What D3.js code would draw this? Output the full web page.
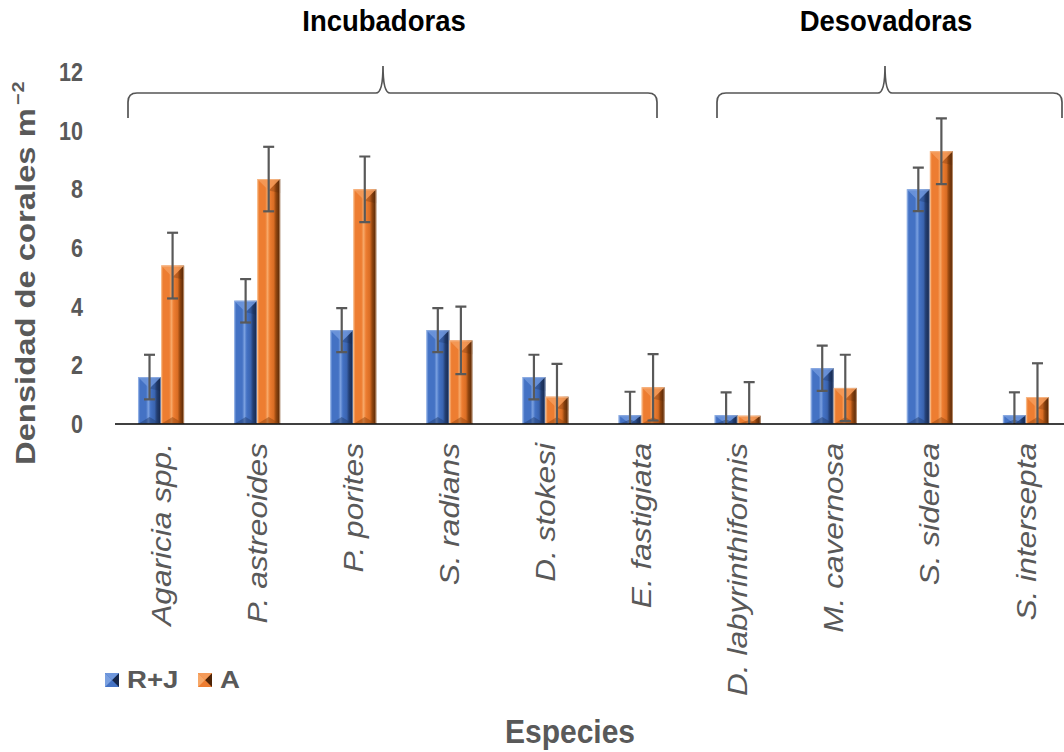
<!DOCTYPE html>
<html>
<head>
<meta charset="utf-8">
<script src="https://cdn.jsdelivr.net/npm/d3@7"></script>
<style>
  html, body { margin: 0; padding: 0; background: #ffffff; }
  svg { display: block; }
</style>
</head>
<body>
<svg id="chart" width="1064" height="752"></svg>
<script>
// ---- data ----
const species = ["Agaricia spp.", "P. astreoides", "P. porites", "S. radians", "D. stokesi",
                 "E. fastigiata", "D. labyrinthiformis", "M. cavernosa", "S. siderea", "S. intersepta"];
const seriesNames = ["R+J", "A"];
const valuesRJ = [1.6, 4.2, 3.2, 3.2, 1.6, 0.3, 0.3, 1.9, 8.0, 0.3];
const errorsRJ = [0.76, 0.74, 0.75, 0.75, 0.76, 0.8, 0.78, 0.77, 0.74, 0.78];
const valuesA  = [5.4, 8.35, 8.0, 2.85, 0.93, 1.25, 0.28, 1.23, 9.3, 0.92];
const errorsA  = [1.12, 1.1, 1.12, 1.15, 1.12, 1.13, 1.15, 1.13, 1.12, 1.15];
const yTicks = [0, 2, 4, 6, 8, 10, 12];
const groups = [
  { name: "Incubadoras", from: "Agaricia spp.", to: "E. fastigiata" },
  { name: "Desovadoras", from: "D. labyrinthiformis", to: "S. intersepta" }
];

// ---- setup ----
const svg = d3.select("#chart");
const gray = "#595959";
const font = "'Liberation Sans', Arial, sans-serif";

const y = d3.scaleLinear().domain([0, 12]).range([424, 72]);
const x0 = d3.scaleBand().domain(species).range([113, 1074]).paddingInner(0.52).paddingOuter(0.26);
const x1 = d3.scaleBand().domain(seriesNames).range([0, x0.bandwidth()]);

const palettes = {
  "R+J": { light: "#7aa0e0", base: "#4472C4", mid: "#3a64b0", dark: "#243f73", darkest: "#15264a", top: "#6f97dc", edge: "#a9c0ea" },
  "A":   { light: "#f7a868", base: "#ED7D31", mid: "#d96d24", dark: "#93460f", darkest: "#4f2406", top: "#f59b5a", edge: "#f8c9a4" }
};

const defs = svg.append("defs");
Object.entries(palettes).forEach(([k, p], i) => {
  const g = defs.append("linearGradient").attr("id", "grad" + i)
    .attr("x1", "0%").attr("x2", "100%").attr("y1", "0%").attr("y2", "0%");
  [[0, p.light], [0.1, p.base], [0.35, p.base], [0.45, p.light], [0.55, p.base], [0.72, p.mid], [0.82, p.dark], [1, p.darkest]]
    .forEach(([o, c]) => g.append("stop").attr("offset", o).attr("stop-color", c));
});
defs.append("clipPath").attr("id", "plotClip")
  .append("rect").attr("x", 0).attr("y", 0).attr("width", 1064).attr("height", 424);

// ---- bars ----
const data = species.map((s, i) => ({
  species: s,
  items: [
    { key: "R+J", v: valuesRJ[i], e: errorsRJ[i], gi: 0 },
    { key: "A", v: valuesA[i], e: errorsA[i], gi: 1 }
  ]
}));

const gCat = svg.append("g").selectAll("g").data(data).join("g")
  .attr("transform", d => `translate(${x0(d.species)},0)`);

const bars = gCat.selectAll("g.bar").data(d => d.items).join("g").attr("class", "bar");
bars.each(function(d) {
  const g = d3.select(this);
  const p = palettes[d.key];
  const bx = x1(d.key), w = x1.bandwidth();
  const by = y(d.v), h = y(0) - y(d.v);
  g.append("rect").attr("x", bx).attr("y", by).attr("width", w).attr("height", h)
    .attr("fill", `url(#grad${d.gi})`);
  const dt = Math.min(w * 0.5, h);
  g.append("path")
    .attr("d", `M${bx},${by} L${bx + w},${by} L${bx + w / 2},${by + dt} Z`)
    .attr("fill", p.top).attr("opacity", 0.85);
  g.append("path")
    .attr("d", `M${bx + w / 2},${by + dt} L${bx + w},${by} L${bx + w},${by + Math.min(h, dt * 1.2)} Z`)
    .attr("fill", p.darkest).attr("opacity", 0.25);
  const db = Math.min(w * 0.3, h / 2);
  g.append("path")
    .attr("d", `M${bx},${by + h} L${bx + w / 2},${by + h - db} L${bx + w},${by + h} Z`)
    .attr("fill", p.dark).attr("opacity", 0.5);
  g.append("rect").attr("x", bx + 0.5).attr("y", by + 0.5).attr("width", w - 1).attr("height", Math.max(0, h - 1))
    .attr("fill", "none").attr("stroke", p.edge).attr("stroke-opacity", 0.6).attr("stroke-width", 1);
});

// ---- error bars ----
const errG = gCat.append("g").attr("clip-path", "url(#plotClip)");
errG.selectAll("g.err").data(d => d.items.map(it => Object.assign({ sp: d.species }, it))).join("g")
  .attr("class", "err")
  .each(function(d) {
    const g = d3.select(this);
    const cx = x1(d.key) + x1.bandwidth() / 2;
    const yt = y(d.v + d.e), yb = y(d.v - d.e);
    g.append("line").attr("x1", cx).attr("x2", cx).attr("y1", yt).attr("y2", yb)
      .attr("stroke", gray).attr("stroke-width", 2.2);
    [yt, yb].forEach(yy => g.append("line").attr("x1", cx - 5.5).attr("x2", cx + 5.5)
      .attr("y1", yy).attr("y2", yy).attr("stroke", gray).attr("stroke-width", 2.2));
  });

// ---- x axis ----
svg.append("line").attr("x1", 115).attr("x2", 1064).attr("y1", y(0)).attr("y2", y(0))
  .attr("stroke", "#000").attr("stroke-width", 1.6);

svg.append("g").selectAll("text").data(species).join("text")
  .attr("transform", d => `translate(${x0(d) + x0.bandwidth() / 2},443) rotate(-90) scale(1.15,1)`)
  .attr("text-anchor", "end").attr("dy", "0.35em")
  .attr("font-family", font).attr("font-style", "italic").attr("font-size", 27.5)
  .attr("fill", gray).text(d => d);

// ---- y axis labels ----
svg.append("g").selectAll("text").data(yTicks).join("text")
  .attr("transform", d => `translate(83,${y(d)}) scale(1.05,1.22)`)
  .attr("dy", "0.36em")
  .attr("text-anchor", "end").attr("font-family", font).attr("font-weight", "bold")
  .attr("font-size", 20.5).attr("fill", gray).text(d => d);

// ---- axis titles ----
const yt = svg.append("text")
  .attr("transform", "translate(35,465) rotate(-90) scale(1.17,1)")
  .attr("text-anchor", "start").attr("font-family", font).attr("font-weight", "bold")
  .attr("font-size", 28).attr("fill", gray);
yt.append("tspan").text("Densidad de corales m");
yt.append("tspan").attr("dx", 3).attr("dy", -11).attr("font-size", 17).attr("letter-spacing", 0.5).text("−2");

svg.append("text").attr("transform", "translate(570,743) scale(1,1.08)").attr("text-anchor", "middle")
  .attr("font-family", font).attr("font-weight", "bold").attr("font-size", 30)
  .attr("fill", gray).text("Especies");

// ---- group brackets ----
groups.forEach((grp, i) => {
  const xl = i === 0 ? 128 : 717;
  const xr = i === 0 ? 657 : 1062;
  const xm = i === 0 ? 383 : 885;
  const yh = 93, yp = 66, yb = 118;
  svg.append("path")
    .attr("d", `M${xl},${yb} L${xl},${yh + 9} Q${xl},${yh} ${xl + 9},${yh} L${xm - 7},${yh} Q${xm},${yh} ${xm},${yp} Q${xm},${yh} ${xm + 7},${yh} L${xr - 9},${yh} Q${xr},${yh} ${xr},${yh + 9} L${xr},${yb}`)
    .attr("fill", "none").attr("stroke", "#555").attr("stroke-width", 1.7);
  svg.append("text").attr("transform", `translate(${xm + 1},31) scale(1,1.05)`).attr("text-anchor", "middle")
    .attr("font-family", font).attr("font-weight", "bold").attr("font-size", 27.5)
    .attr("fill", "#000").text(grp.name);
});

// ---- legend ----
const leg = svg.append("g");
const legItems = [{ key: "R+J", x: 105, tx: 127 }, { key: "A", x: 198, tx: 220 }];
legItems.forEach((it, i) => {
  const p = palettes[it.key];
  const s = 14, lx = it.x, ly = 673;
  leg.append("rect").attr("x", lx).attr("y", ly).attr("width", s).attr("height", s).attr("fill", p.base);
  leg.append("path").attr("d", `M${lx},${ly} L${lx + s / 2},${ly + s / 2} L${lx},${ly + s} Z`).attr("fill", p.light);
  leg.append("path").attr("d", `M${lx + s},${ly} L${lx + s / 2},${ly + s / 2} L${lx + s},${ly + s} Z`).attr("fill", p.darkest);
  leg.append("path").attr("d", `M${lx},${ly} L${lx + s / 2},${ly + s / 2} L${lx + s},${ly} Z`).attr("fill", p.top);
  leg.append("text").attr("transform", `translate(${it.tx},${ly + 7}) scale(1.2,1)`).attr("dy", "0.36em")
    .attr("font-family", font).attr("font-weight", "bold").attr("font-size", 23)
    .attr("fill", gray).text(it.key);
});
</script>
</body>
</html>
